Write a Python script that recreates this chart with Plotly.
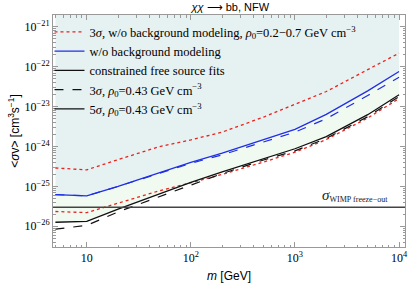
import numpy as np
import plotly.graph_objects as go

# ---- data ----
mass = [5, 10, 20, 50, 100, 200, 500, 1000, 2000, 5000, 10000]
red_upper = [2.9e-25, 2.6e-25, 4.7e-25, 1.0e-24, 1.47e-24, 2.3e-24, 5.5e-24, 1.15e-23, 2.4e-23, 8.5e-23, 2.2e-22]
red_lower = [2.35e-26, 2.2e-26, 3.8e-26, 7.8e-26, 1.23e-25, 2.0e-25, 4.1e-25, 7.2e-25, 1.5e-24, 5.2e-24, 1.6e-23]
blue_solid = [6.2e-26, 5.8e-26, 1.0e-25, 2.2e-25, 4.0e-25, 6.8e-25, 1.5e-24, 2.7e-24, 6.4e-24, 2.5e-23, 7.6e-23]
blue_dashed = [6.2e-26, 5.8e-26, 1.0e-25, 2.15e-25, 3.8e-25, 6.2e-25, 1.3e-24, 2.3e-24, 5.0e-24, 1.9e-23, 5.5e-23]
black_solid = [1.26e-26, 1.33e-26, 2.7e-26, 6.6e-26, 1.26e-25, 2.3e-25, 5.0e-25, 8.8e-25, 1.78e-24, 6.3e-24, 2.0e-23]
black_dashed = [8.5e-27, 1.05e-26, 2.3e-26, 5.6e-26, 1.12e-25, 2.1e-25, 4.6e-25, 7.8e-25, 1.6e-24, 5.6e-24, 1.8e-23]
freeze_out = 3e-26
fill_top = 1e-20

x_tickvals = [10, 100, 1000, 10000]
x_ticktext = ["10", "10<sup>2</sup>", "10<sup>3</sup>", "10<sup>4</sup>"]
y_tickvals = [1e-26, 1e-25, 1e-24, 1e-23, 1e-22, 1e-21]
y_ticktext = ["10<sup>−26</sup>", "10<sup>−25</sup>", "10<sup>−24</sup>",
              "10<sup>−23</sup>", "10<sup>−22</sup>", "10<sup>−21</sup>"]
x_minor = [m * 10 ** k for k in range(0, 4) for m in range(2, 10) if 4.7 < m * 10 ** k < 11000]
y_minor = [m * 10.0 ** k for k in range(-27, -20) for m in range(2, 10) if 2.9e-27 < m * 10.0 ** k < 2e-21]

SERIF = "Liberation Serif"
SANS = "Liberation Sans"
RED = "#e8231e"
BLUE = "#1f2ee6"
BLACK = "#111111"

fig = go.Figure()

# shaded regions
fig.add_trace(go.Scatter(x=mass + mass[::-1], y=blue_solid + [fill_top] * len(mass),
                         fill="toself", fillcolor="#e6f1f1", line=dict(width=0),
                         mode="lines", showlegend=False, hoverinfo="skip"))
fig.add_trace(go.Scatter(x=mass + mass[::-1], y=blue_solid + black_solid[::-1],
                         fill="toself", fillcolor="#f1faf0", line=dict(width=0),
                         mode="lines", showlegend=False, hoverinfo="skip"))

fig.add_trace(go.Scatter(x=mass, y=red_upper, mode="lines",
                         line=dict(color=RED, width=1.3, dash="dot"),
                         name="3<i>σ</i>, w/o background modeling, <i>ρ</i><sub>0</sub>=0.2−0.7 GeV cm<sup>−3</sup>",
                         legendgroup="red"))
fig.add_trace(go.Scatter(x=mass, y=red_lower, mode="lines",
                         line=dict(color=RED, width=1.3, dash="dot"),
                         showlegend=False, legendgroup="red"))
fig.add_trace(go.Scatter(x=mass, y=blue_solid, mode="lines",
                         line=dict(color=BLUE, width=1.3),
                         name="w/o background modeling"))
fig.add_trace(go.Scatter(x=mass, y=blue_dashed, mode="lines",
                         line=dict(color=BLUE, width=1.2, dash="dash"),
                         showlegend=False))
fig.add_trace(go.Scatter(x=mass, y=black_solid, mode="lines",
                         line=dict(color=BLACK, width=1.3),
                         name="constrained free source fits"))
fig.add_trace(go.Scatter(x=mass, y=black_dashed, mode="lines",
                         line=dict(color=BLACK, width=1.2, dash="dash"),
                         name="3<i>σ</i>, <i>ρ</i><sub>0</sub>=0.43 GeV cm<sup>−3</sup>"))
fig.add_trace(go.Scatter(x=[None], y=[None], mode="lines",
                         line=dict(color=BLACK, width=1.3),
                         name="5<i>σ</i>, <i>ρ</i><sub>0</sub>=0.43 GeV cm<sup>−3</sup>"))

fig.add_shape(type="line", xref="paper", x0=0, x1=1, yref="y", y0=freeze_out, y1=freeze_out,
              line=dict(color="#444444", width=1.3), layer="above")

fig.add_annotation(xref="paper", yref="paper", x=0.958, y=0.178, xanchor="right", yanchor="bottom",
                   text="<span style='font-size:15px'><i>σ</i></span><sub>WIMP freeze−out</sub>",
                   showarrow=False, font=dict(family=SERIF, size=11.5, color="#222"))

axis_common = dict(type="log", showgrid=False, zeroline=False, showline=True, linecolor="#999999",
                   linewidth=1, mirror="allticks", ticks="inside", ticklen=5, tickcolor="#999999",
                   tickfont=dict(family=SERIF, size=12, color="black"))

fig.update_xaxes(**axis_common, range=[np.log10(4.74), 4.057], tickmode="array",
                 tickvals=x_tickvals, ticktext=x_ticktext,
                 minor=dict(tickmode="array", tickvals=x_minor, ticks="inside", ticklen=2.5, tickcolor="#999999"),
                 title=dict(text="<i>m</i> [GeV]", font=dict(family=SANS, size=12, color="black"), standoff=7))
fig.update_yaxes(**axis_common, range=[-26.52, -20.70], tickmode="array",
                 tickvals=y_tickvals, ticktext=y_ticktext,
                 minor=dict(tickmode="array", tickvals=y_minor, ticks="inside", ticklen=2.5, tickcolor="#999999"),
                 title=dict(text="&lt;<i>σ</i>v&gt; [cm<sup>3</sup>s<sup>−1</sup>]",
                            font=dict(family=SANS, size=12, color="black"), standoff=2))

fig.update_layout(
    width=415, height=288,
    margin=dict(l=53, r=7, t=15, b=38),
    paper_bgcolor="white", plot_bgcolor="white",
    title=dict(text="<i>χχ</i> ⟶ bb, NFW", x=0.555, xanchor="center", y=0.975, yanchor="middle",
               font=dict(family=SANS, size=11, color="black")),
    legend=dict(x=-0.01, y=0.99, xanchor="left", yanchor="top", bgcolor="rgba(0,0,0,0)",
                font=dict(family=SERIF, size=12.5, color="black"), tracegroupgap=0,
                itemwidth=30),
    showlegend=True,
)

fig.write_html("out.html", config={"displayModeBar": False},
               post_script="document.body.style.margin='0';document.body.style.overflow='hidden';")
